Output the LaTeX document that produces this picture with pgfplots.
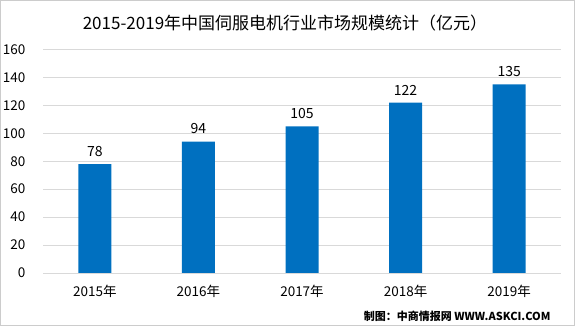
\documentclass[border=0pt]{standalone}
\usepackage{pgfplots}
\pgfplotsset{compat=1.18}
\usepackage{fontspec}
\setmainfont{Noto Sans CJK SC}
\definecolor{barblue}{HTML}{0070C0}
\definecolor{gridgray}{HTML}{D9D9D9}
\begin{document}
\begin{tikzpicture}[x=1pt,y=1pt]
\useasboundingbox (0,0) rectangle (575,326);
\draw[gray!40,line width=0.8pt] (0.4,0.4) rectangle (574.6,325.6);
\node[font=\fontsize{17}{18}\selectfont] at (285,303) {2015-2019年中国伺服电机行业市场规模统计（亿元）};
\node[font=\fontsize{11}{12}\selectfont\bfseries,anchor=east] at (554,10) {制图：中商情报网 WWW.ASKCI.COM};
\begin{axis}[
  at={(43pt,53pt)}, anchor=south west,
  scale only axis, width=518pt, height=223.5pt,
  ymin=0, ymax=160, ytick={0,20,...,160},
  xmin=-0.5, xmax=4.5,
  xtick=data,
  xticklabels={2015年,2016年,2017年,2018年,2019年},
  ybar, bar width=33pt,
  axis line style={draw=none},
  ymajorgrids, grid style={gridgray, line width=0.8pt},
  tick style={draw=none},
  every tick label/.append style={font=\fontsize{13.5}{14}\selectfont},
  yticklabel style={xshift=-14pt},
  xticklabel style={yshift=-4pt},
  /pgf/number format/assume math mode=true,
  nodes near coords,
  every node near coord/.append style={font=\fontsize{14}{15}\selectfont, yshift=4pt},
  clip=false,
]
\addplot[fill=barblue, draw=none] coordinates {(0,78) (1,94) (2,105) (3,122) (4,135)};
\end{axis}
\end{tikzpicture}
\end{document}
